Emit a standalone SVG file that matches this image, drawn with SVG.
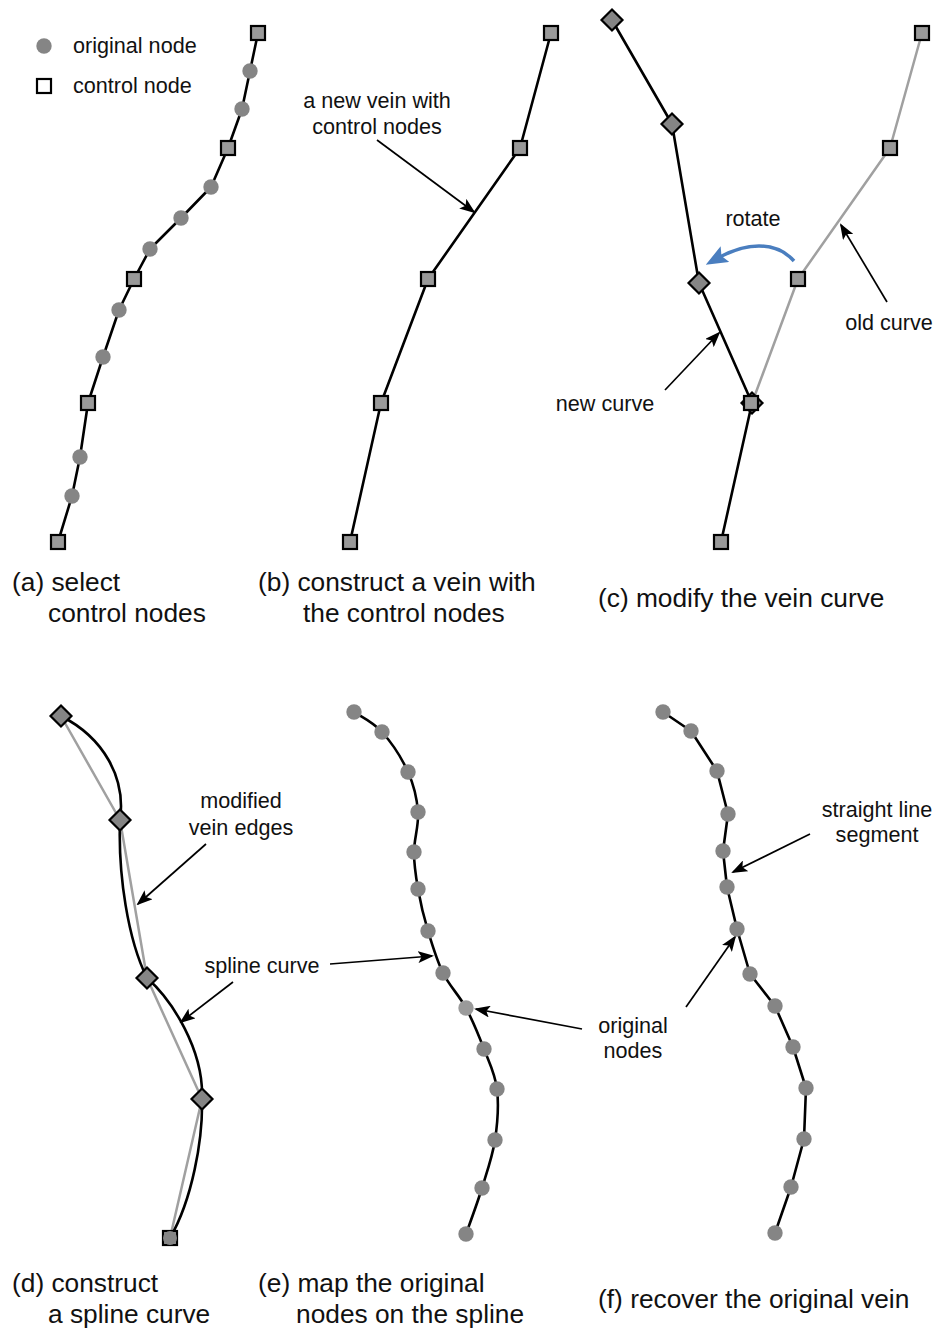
<svg xmlns="http://www.w3.org/2000/svg" xmlns:xlink="http://www.w3.org/1999/xlink" width="938" height="1332" viewBox="0 0 938 1332">
<style>
text{font-family:"Liberation Sans",Arial,sans-serif;fill:#111}
.cap{font-size:26.3px}
.lbl{font-size:21.6px}
.mid{text-anchor:middle}
.vein{fill:none;stroke:#000;stroke-width:2.6;stroke-linejoin:round}
.old{fill:none;stroke:#a0a0a0;stroke-width:2.5;stroke-linejoin:round}
.arr{fill:none;stroke:#000;stroke-width:1.7;marker-end:url(#ah)}
.rot{fill:none;stroke:#4a7ebf;stroke-width:3.5;marker-end:url(#bh)}
.sq{fill:#999;stroke:#000;stroke-width:2.2}
.sqw{fill:#fff;stroke:#000;stroke-width:2.2}
.dm{fill:#858585;stroke:#000;stroke-width:2.2;stroke-linejoin:miter}
.on{fill:#858585}
.onl{fill:#9a9a9a}
</style>
<defs>
<marker id="ah" viewBox="0 0 16 12" refX="14" refY="6" markerWidth="16" markerHeight="12" markerUnits="userSpaceOnUse" orient="auto">
<path d="M0,0 L16,6 L0,12 L3.5,6 z" fill="#000"/>
</marker>
<marker id="bh" viewBox="0 0 22 18" refX="8" refY="9" markerWidth="22" markerHeight="18" markerUnits="userSpaceOnUse" orient="auto">
<path d="M0,0 L22,9 L0,18 L4,9 z" fill="#4a7ebf"/>
</marker>
<rect id="sq" class="sq" x="-7" y="-7" width="14" height="14"/>
<polygon id="dm" class="dm" points="0,-10.5 10.5,0 0,10.5 -10.5,0"/>
<circle id="on" class="on" r="7.7"/>
</defs>

<!-- connectors / curves -->
<g id="connectors">
<polyline class="vein" points="258,33 250,71 242,109 228,148 211,187 181,218 150,249 134,279 119,310 103,357 88,403 80,457 72,496 58,542"/>
<polyline class="vein" points="551,33 520,148 428,279 381,403 350,542"/>
<polyline class="old" points="922,33 890,148 798,279 752,403"/>
<polyline class="vein" points="612,20 672,124 699,283 752,403 721,542"/>
<polyline class="old" points="61,716 120,820 147,978 202,1099 170,1238"/>
<path class="vein" d="M61,716 C104,738 126,778 120,820 C118,875 128,940 147,978 C172,1000 204,1050 202,1099 C203,1140 192,1200 170,1238"/>
<path class="vein" d="M354,712 C358.7,715.3 373,722 382,732 C391,742 402,758.7 408,772 C414,785.3 417,798.7 418,812 C419,825.3 414,839.2 414,852 C414,864.8 415.7,875.8 418,889 C420.3,902.2 423.8,917 428,931 C432.2,945 436.7,960.2 443,973 C449.3,985.8 459.2,995.3 466,1008 C472.8,1020.7 478.8,1035.5 484,1049 C489.2,1062.5 495.2,1073.8 497,1089 C498.8,1104.2 497.5,1123.5 495,1140 C492.5,1156.5 486.8,1172.3 482,1188 C477.2,1203.7 468.7,1226.3 466,1234"/>
<polyline class="vein" points="663,712 691,731 717,771 728,814 723,851 727,887 737,929 750,974 775,1006 793,1047 806,1088 804,1139 791,1187 775,1233"/>
<line class="arr" x1="377" y1="140" x2="474" y2="212"/>
<line class="arr" x1="665" y1="390" x2="719" y2="333"/>
<line class="arr" x1="887" y1="302" x2="841" y2="225"/>
<line class="arr" x1="206" y1="844" x2="138" y2="904"/>
<line class="arr" x1="233" y1="982" x2="181" y2="1022"/>
<line class="arr" x1="330" y1="964" x2="432" y2="956"/>
<line class="arr" x1="582" y1="1029" x2="476" y2="1009"/>
<line class="arr" x1="810" y1="834" x2="733" y2="872"/>
<line class="arr" x1="686" y1="1007" x2="735" y2="937"/>
<path class="rot" d="M794,261 C775,240 745,243 718,258"/>
</g>

<!-- legend -->
<g id="legend-original"><circle class="on" cx="44" cy="46" r="7.7"/><text class="lbl" x="73" y="53">original node</text></g>
<g id="legend-control"><rect class="sqw" x="37" y="79" width="14" height="14"/><text class="lbl" x="73" y="93">control node</text></g>

<!-- panel a -->
<g id="a-nodes">
<g id="a-o1"><use xlink:href="#on" x="250" y="71"/></g>
<g id="a-o2"><use xlink:href="#on" x="242" y="109"/></g>
<g id="a-o3"><use xlink:href="#on" x="211" y="187"/></g>
<g id="a-o4"><use xlink:href="#on" x="181" y="218"/></g>
<g id="a-o5"><use xlink:href="#on" x="150" y="249"/></g>
<g id="a-o6"><use xlink:href="#on" x="119" y="310"/></g>
<g id="a-o7"><use xlink:href="#on" x="103" y="357"/></g>
<g id="a-o8"><use xlink:href="#on" x="80" y="457"/></g>
<g id="a-o9"><use xlink:href="#on" x="72" y="496"/></g>
<g id="a-c1"><use xlink:href="#sq" x="258" y="33"/></g>
<g id="a-c2"><use xlink:href="#sq" x="228" y="148"/></g>
<g id="a-c3"><use xlink:href="#sq" x="134" y="279"/></g>
<g id="a-c4"><use xlink:href="#sq" x="88" y="403"/></g>
<g id="a-c5"><use xlink:href="#sq" x="58" y="542"/></g>
</g>
<g id="a-caption"><text class="cap" x="12" y="591">(a) select</text><text class="cap" x="48" y="622">control nodes</text></g>

<!-- panel b -->
<g id="b-nodes">
<g id="b-c1"><use xlink:href="#sq" x="551" y="33"/></g>
<g id="b-c2"><use xlink:href="#sq" x="520" y="148"/></g>
<g id="b-c3"><use xlink:href="#sq" x="428" y="279"/></g>
<g id="b-c4"><use xlink:href="#sq" x="381" y="403"/></g>
<g id="b-c5"><use xlink:href="#sq" x="350" y="542"/></g>
</g>
<g id="b-label"><text class="lbl mid" x="377" y="108">a new vein with</text><text class="lbl mid" x="377" y="134">control nodes</text></g>
<g id="b-caption"><text class="cap" x="258" y="591">(b) construct a vein with</text><text class="cap" x="303" y="622">the control nodes</text></g>

<!-- panel c -->
<g id="c-nodes">
<g id="c-o1"><use xlink:href="#sq" x="922" y="33"/></g>
<g id="c-o2"><use xlink:href="#sq" x="890" y="148"/></g>
<g id="c-o3"><use xlink:href="#sq" x="798" y="279"/></g>
<g id="c-d1"><use xlink:href="#dm" x="612" y="20"/></g>
<g id="c-d2"><use xlink:href="#dm" x="672" y="124"/></g>
<g id="c-d3"><use xlink:href="#dm" x="699" y="283"/></g>
<g id="c-pivot"><use xlink:href="#dm" x="752" y="403"/><use xlink:href="#sq" x="751" y="403"/></g>
<g id="c-c5"><use xlink:href="#sq" x="721" y="542"/></g>
</g>
<g id="c-labels">
<text class="lbl mid" x="753" y="226">rotate</text>
<text class="lbl mid" x="605" y="411">new curve</text>
<text class="lbl mid" x="889" y="330">old curve</text>
</g>
<g id="c-caption"><text class="cap" x="598" y="607">(c) modify the vein curve</text></g>

<!-- panel d -->
<g id="d-nodes">
<g id="d-d1"><use xlink:href="#dm" x="61" y="716"/></g>
<g id="d-d2"><use xlink:href="#dm" x="120" y="820"/></g>
<g id="d-d3"><use xlink:href="#dm" x="147" y="978"/></g>
<g id="d-d4"><use xlink:href="#dm" x="202" y="1099"/></g>
<g id="d-c5"><use xlink:href="#sq" x="170" y="1238"/><circle class="on" cx="170" cy="1238" r="7"/></g>
</g>
<g id="d-labels">
<text class="lbl mid" x="241" y="808">modified</text>
<text class="lbl mid" x="241" y="835">vein edges</text>
<text class="lbl mid" x="262" y="973">spline curve</text>
</g>
<g id="d-caption"><text class="cap" x="12" y="1292">(d) construct</text><text class="cap" x="48" y="1323">a spline curve</text></g>

<!-- panel e -->
<g id="e-nodes">
<g id="e-1"><use xlink:href="#on" x="354" y="712"/></g>
<g id="e-2"><use xlink:href="#on" x="382" y="732"/></g>
<g id="e-3"><use xlink:href="#on" x="408" y="772"/></g>
<g id="e-4"><use xlink:href="#on" x="418" y="812"/></g>
<g id="e-5"><use xlink:href="#on" x="414" y="852"/></g>
<g id="e-6"><use xlink:href="#on" x="418" y="889"/></g>
<g id="e-7"><use xlink:href="#on" x="428" y="931"/></g>
<g id="e-8"><use xlink:href="#on" x="443" y="973"/></g>
<g id="e-9"><circle class="onl" cx="466" cy="1008" r="7.7"/></g>
<g id="e-10"><use xlink:href="#on" x="484" y="1049"/></g>
<g id="e-11"><use xlink:href="#on" x="497" y="1089"/></g>
<g id="e-12"><use xlink:href="#on" x="495" y="1140"/></g>
<g id="e-13"><use xlink:href="#on" x="482" y="1188"/></g>
<g id="e-14"><use xlink:href="#on" x="466" y="1234"/></g>
</g>
<g id="e-labels">
<text class="lbl mid" x="633" y="1033">original</text>
<text class="lbl mid" x="633" y="1058">nodes</text>
</g>
<g id="e-caption"><text class="cap" x="258" y="1292">(e) map the original</text><text class="cap" x="296" y="1323">nodes on the spline</text></g>

<!-- panel f -->
<g id="f-nodes">
<g id="f-1"><use xlink:href="#on" x="663" y="712"/></g>
<g id="f-2"><use xlink:href="#on" x="691" y="731"/></g>
<g id="f-3"><use xlink:href="#on" x="717" y="771"/></g>
<g id="f-4"><use xlink:href="#on" x="728" y="814"/></g>
<g id="f-5"><use xlink:href="#on" x="723" y="851"/></g>
<g id="f-6"><use xlink:href="#on" x="727" y="887"/></g>
<g id="f-7"><use xlink:href="#on" x="737" y="929"/></g>
<g id="f-8"><use xlink:href="#on" x="750" y="974"/></g>
<g id="f-9"><use xlink:href="#on" x="775" y="1006"/></g>
<g id="f-10"><use xlink:href="#on" x="793" y="1047"/></g>
<g id="f-11"><use xlink:href="#on" x="806" y="1088"/></g>
<g id="f-12"><use xlink:href="#on" x="804" y="1139"/></g>
<g id="f-13"><use xlink:href="#on" x="791" y="1187"/></g>
<g id="f-14"><use xlink:href="#on" x="775" y="1233"/></g>
</g>
<g id="f-labels">
<text class="lbl mid" x="877" y="817">straight line</text>
<text class="lbl mid" x="877" y="842">segment</text>
</g>
<g id="f-caption"><text class="cap" x="598" y="1308">(f) recover the original vein</text></g>
</svg>
